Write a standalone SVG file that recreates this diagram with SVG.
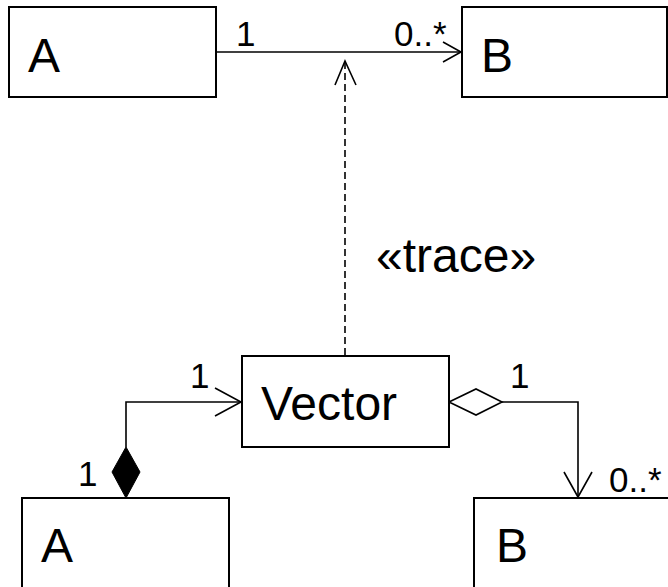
<svg xmlns="http://www.w3.org/2000/svg" width="668" height="587" viewBox="0 0 668 587">
<style>
.box{fill:#fff;stroke:#000;stroke-width:2}
.big{font-family:"Liberation Sans",Arial,sans-serif;font-size:48px;fill:#000}
.sm{font-family:"Liberation Sans",Arial,sans-serif;font-size:35px;fill:#000}
.ln{fill:none;stroke:#000;stroke-width:1.6}
</style>
<rect width="668" height="587" fill="#fff"/>
<g id="connectors">
  <line class="ln" x1="216" y1="52" x2="461" y2="52"/>
  <polyline class="ln" points="443,42 461,52 443,62"/>
  <line class="ln" x1="345" y1="62" x2="345" y2="355" stroke-dasharray="7,4"/>
  <polyline class="ln" points="335,85 345,61 356,85"/>
  <polyline class="ln" points="126,447 126,402 241,402"/>
  <polyline class="ln" points="215,388 241,402 215,416"/>
  <polygon points="126,447 140,472 126,498 112,472" fill="#000" stroke="#000" stroke-width="1"/>
  <polygon points="449,402 476,389 502,402 476,415" fill="#fff" stroke="#000" stroke-width="1.6"/>
  <polyline class="ln" points="502,402 578,402 578,498"/>
  <polyline class="ln" points="564,472 578,497 592,472"/>
</g>
<g id="nodeA1"><rect class="box" x="9" y="7" width="207" height="90"/><text class="big" x="28" y="72">A</text></g>
<g id="nodeB1"><rect class="box" x="462" y="7" width="205" height="90"/><text class="big" x="481" y="72">B</text></g>
<g id="nodeVector"><rect class="box" x="242" y="356" width="207" height="91"/><text class="big" x="261" y="420">Vector</text></g>
<g id="nodeA2"><rect class="box" x="22" y="498" width="207" height="100"/><text class="big" x="41" y="562">A</text></g>
<g id="nodeB2"><rect class="box" x="474" y="498" width="205" height="100"/><text class="big" x="496" y="562">B</text></g>
<g id="labels">
  <text class="sm" x="236" y="46">1</text>
  <text class="sm" x="394" y="46">0..*</text>
  <text class="big" x="376" y="272">«trace»</text>
  <text class="sm" x="190" y="388">1</text>
  <text class="sm" x="78" y="486">1</text>
  <text class="sm" x="510" y="388">1</text>
  <text class="sm" x="609" y="492">0..*</text>
</g>
</svg>
